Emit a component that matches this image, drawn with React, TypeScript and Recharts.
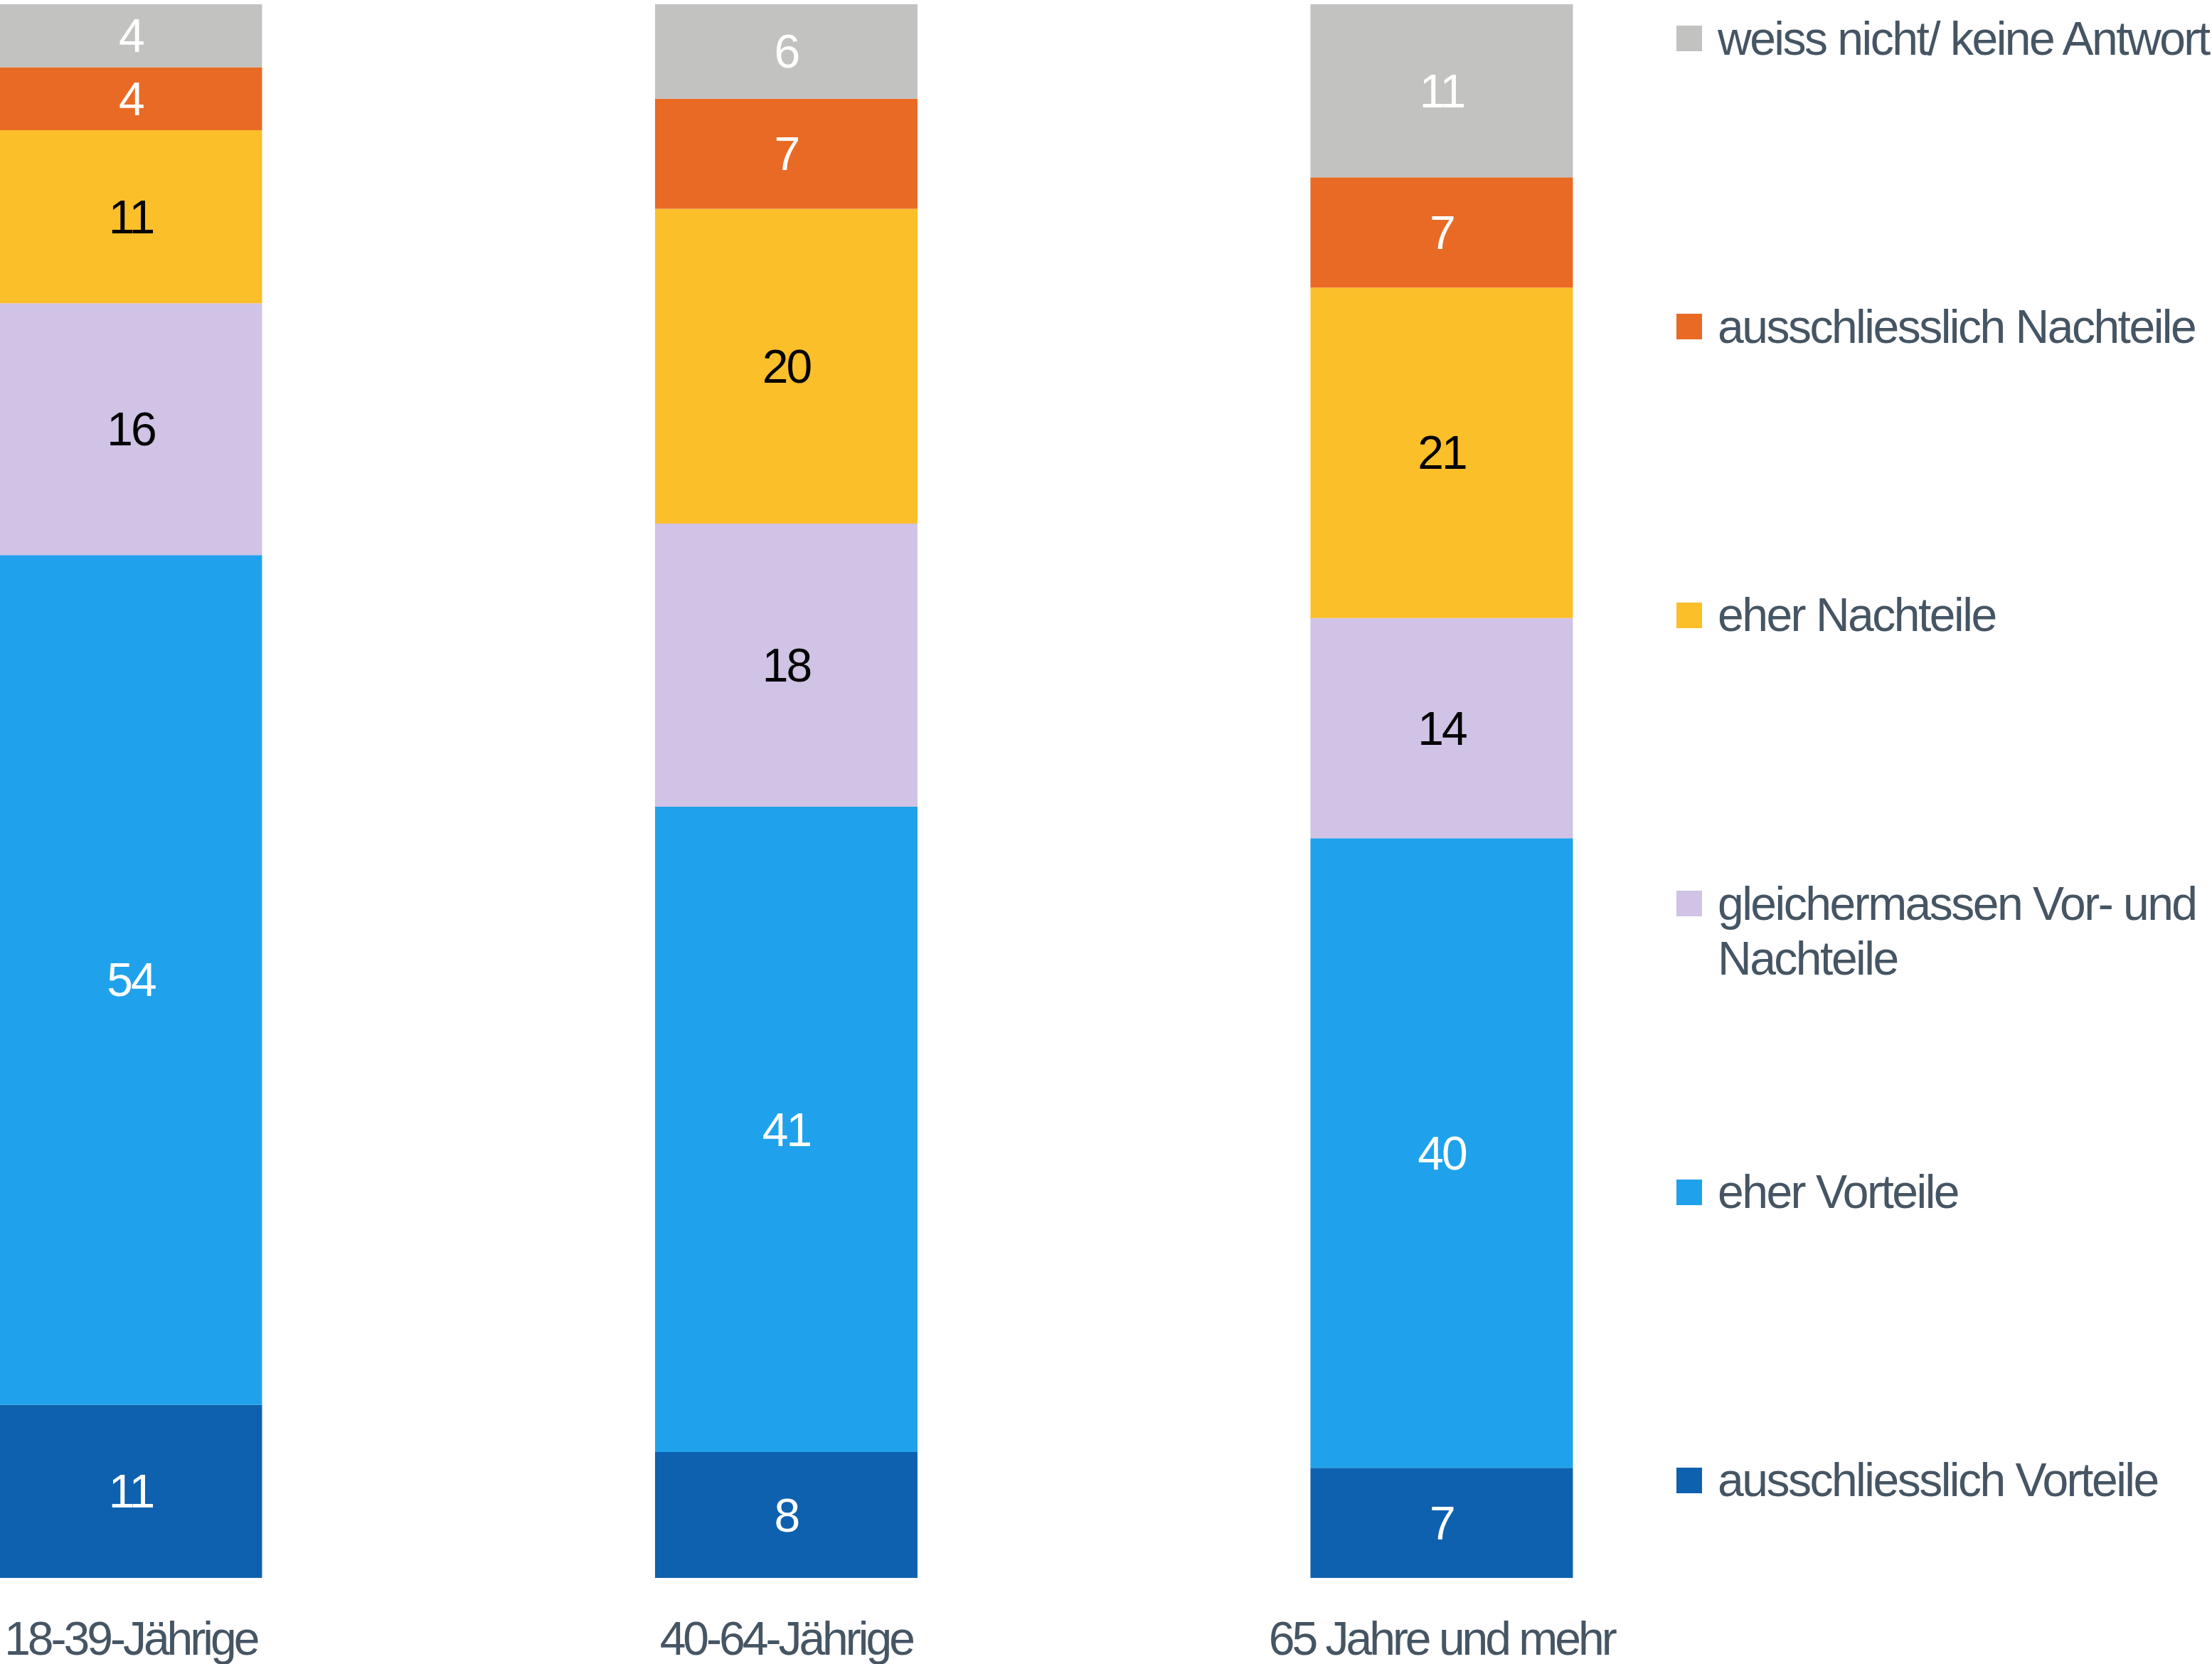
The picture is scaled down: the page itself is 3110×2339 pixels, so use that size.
import React from "react";
import { Bar, BarChart, LabelList, Legend, XAxis, YAxis } from "recharts";

const CATEGORIES = ["18-39-Jährige", "40-64-Jährige", "65 Jahre und mehr"];

// stacked bottom -> top
const AUSSCHL_VORTEILE = [11, 8, 7];
const EHER_VORTEILE = [54, 41, 40];
const GLEICHERMASSEN = [16, 18, 14];
const EHER_NACHTEILE = [11, 20, 21];
const AUSSCHL_NACHTEILE = [4, 7, 7];
const WEISS_NICHT = [4, 6, 11];

const SERIES = [
  { key: "av", name: "ausschliesslich Vorteile", values: AUSSCHL_VORTEILE, color: "#0E61AE", label: "#ffffff" },
  { key: "ev", name: "eher Vorteile", values: EHER_VORTEILE, color: "#1FA2EB", label: "#ffffff" },
  { key: "gl", name: "gleichermassen Vor- und Nachteile", values: GLEICHERMASSEN, color: "#D0C3E6", label: "#000000" },
  { key: "en", name: "eher Nachteile", values: EHER_NACHTEILE, color: "#FBBF2A", label: "#000000" },
  { key: "an", name: "ausschliesslich Nachteile", values: AUSSCHL_NACHTEILE, color: "#E96A24", label: "#ffffff" },
  { key: "wn", name: "weiss nicht/ keine Antwort", values: WEISS_NICHT, color: "#C2C2C0", label: "#ffffff" },
];

const data = CATEGORIES.map((name, i) => {
  const row: Record<string, string | number> = { name };
  SERIES.forEach(s => { row[s.key] = s.values[i]; });
  return row;
});

const FONT = '"Liberation Sans", Arial, sans-serif';
const TEXT = "#455564";
const SHIFT = 277; // first band starts left of the visible page

function CategoryTick({ x, y, payload }: any) {
  return (
    <text x={x} y={y} dy={108} textAnchor="middle" fill={TEXT} fontSize={66} fontFamily={FONT} letterSpacing={-4}>
      {payload.value}
    </text>
  );
}

function valueLabel(color: string) {
  return (props: any) => {
    const { x, y, width, height, value } = props;
    return (
      <text
        x={Number(x) + Number(width) / 2}
        y={Number(y) + Number(height) / 2}
        textAnchor="middle"
        dominantBaseline="central"
        fill={color}
        fontSize={66}
        fontFamily={FONT}
        letterSpacing={-3}
      >
        {value}
      </text>
    );
  };
}

// top of the stack first, same as the reference legend
const LEGEND_ORDER = SERIES.map(s => s.name).reverse();

function LegendBox({ payload }: any) {
  const items = [...(payload ?? [])].sort(
    (a: any, b: any) => LEGEND_ORDER.indexOf(a.value) - LEGEND_ORDER.indexOf(b.value)
  );
  return (
    <div style={{ fontFamily: FONT, color: TEXT, fontSize: 66, letterSpacing: -2.5 }}>
      {items.map((it: any) => (
        <div key={it.value} style={{ display: "flex", alignItems: "flex-start", height: 405.4 }}>
          <span
            style={{ width: 36, height: 36, marginTop: 20.5, marginRight: 22, flexShrink: 0, backgroundColor: it.color }}
            aria-hidden
          />
          <span style={{ lineHeight: "77px", width: 720 }}>{it.value}</span>
        </div>
      ))}
    </div>
  );
}

export default function App() {
  const W = 3110 + SHIFT;
  return (
    <div style={{ position: "absolute", left: 0, top: 0, width: 3110, height: 2339, overflow: "hidden", background: "#fff" }}>
      <div style={{ position: "absolute", left: -SHIFT, top: 0 }}>
        <BarChart
          width={W}
          height={2339}
          data={data}
          margin={{ top: 6, right: W - 2764.5, bottom: 0, left: 0 }}
          barCategoryGap="30%"
        >
          <XAxis
            dataKey="name"
            height={121}
            axisLine={false}
            tickLine={false}
            tickSize={0}
            tickMargin={0}
            interval={0}
            tick={<CategoryTick />}
          />
          <YAxis hide domain={[0, 100]} width={0} />
          <Legend
            layout="horizontal"
            verticalAlign="middle"
            align="center"
            content={<LegendBox />}
            wrapperStyle={{ position: "absolute", left: 2357 + SHIFT, top: 15.5, width: 780 }}
          />
          {SERIES.map(s => (
            <Bar key={s.key} dataKey={s.key} name={s.name} stackId="a" fill={s.color} isAnimationActive={false}>
              <LabelList dataKey={s.key} content={valueLabel(s.label)} />
            </Bar>
          ))}
        </BarChart>
      </div>
    </div>
  );
}
